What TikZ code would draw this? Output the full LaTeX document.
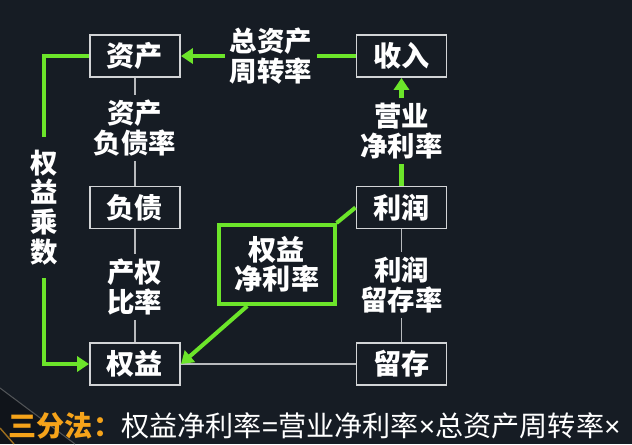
\documentclass[tikz,border=0pt]{standalone}
\usepackage{fontspec}
\setmainfont{Noto Sans CJK SC}
\newfontfamily\opfont{Liberation Sans}
\usetikzlibrary{arrows.meta,calc}
\definecolor{bg}{HTML}{161C24}
\definecolor{lime}{HTML}{6CE52A}
\definecolor{boxline}{HTML}{D2D4D6}
\definecolor{wire}{HTML}{B8BABD}
\definecolor{gold}{HTML}{F5A31A}
\newcommand{\eqsign}{{\opfont =}}
\newcommand{\timessign}{{\opfont ×}}

\begin{document}
\begin{tikzpicture}[x=0.01cm,y=-0.01cm,
  item/.style={draw=boxline, line width=0.55pt, fill=bg, text=white,
    minimum width=0.9cm, minimum height=0.42cm, inner sep=0pt,
    font=\fontsize{8}{8.4}\selectfont\bfseries},
  roebox/.style={draw=lime, line width=1.15pt, fill=bg, text=white, align=center,
    minimum width=1.15cm, minimum height=0.79cm, inner sep=0pt,
    font=\fontsize{8}{8.2}\selectfont\bfseries},
  ratio/.style={text=white, align=center, inner sep=1.2pt,
    font=\fontsize{7.8}{8.4}\selectfont\bfseries},
  link/.style={draw=wire, line width=0.45pt},
  flow/.style={draw=lime, line width=1.15pt},
  tip/.style={-{Triangle[length=3.4pt,width=4.3pt]}},
]
\clip (0,0) rectangle (632,444);
\fill[bg] (0,0) rectangle (632,444);

% corner decoration of the slide
\fill[black, opacity=0.25] (0,388) -- (75,444) -- (0,444) -- cycle;
\draw[gray!55!bg, line width=0.3pt] (0,388) -- (75,444);
\draw[gold!60!bg, line width=0.4pt] (0,428) -- (14,444);

% boxes
\node[item] (za) at (135,56) {资产};
\node[item] (sr) at (401.5,56) {收入};
\node[item] (fz) at (135,207.5) {负债};
\node[item] (lr) at (401.5,207.5) {利润};
\node[item] (qy) at (135,364) {权益};
\node[item] (lc) at (401.5,364) {留存};
\node[roebox] (roe) at (277,264.5) {权益\\净利率};

% ratio labels
\node[ratio] (zzl) at (271,56) {总资产\\周转率};
\node[ratio] (zfl) at (135,128) {资产\\负债率};
\node[ratio] (yjl) at (401.5,131) {营业\\净利率};
\node[ratio] (cql) at (135,287) {产权\\比率};
\node[ratio] (lcl) at (401.5,285) {利润\\留存率};
\node[ratio, inner ysep=3.5pt, font=\fontsize{7.8}{8.5}\selectfont\bfseries] (qcs) at (44,207.5) {权\\益\\乘\\数};

% thin connectors
\draw[link] (za) -- (zfl);
\draw[link] (zfl) -- (fz);
\draw[link] (fz) -- (cql);
\draw[link] (cql) -- (qy);
\draw[link] (lr) -- (lcl);
\draw[link] (lcl) -- (lc);
\draw[link] (qy) -- (lc);

% green flows
\draw[flow] (sr) -- (zzl);
\draw[flow,tip] (zzl) -- (za);
\draw[flow] (lr) -- (yjl);
\draw[flow,tip] (yjl) -- (sr);
\draw[flow] (za.west) -| (qcs.north);
\draw[flow,tip] (qcs.south) |- (qy.west);
\draw[flow] (lr.west) -- (roe.north east);
\coordinate (roeout) at ($(roe.south west)!0.25!(roe.south east)$);
\draw[flow,tip] (roeout) -- (qy.east);

% formula
\node[anchor=west, inner sep=0pt, text=white, font=\fontsize{8}{8}\selectfont] (eq) at (8,426)
  {\textcolor{gold}{\bfseries 三分法：}权益净利率\eqsign 营业净利率\timessign 总资产周转率\timessign};
\end{tikzpicture}
\end{document}
